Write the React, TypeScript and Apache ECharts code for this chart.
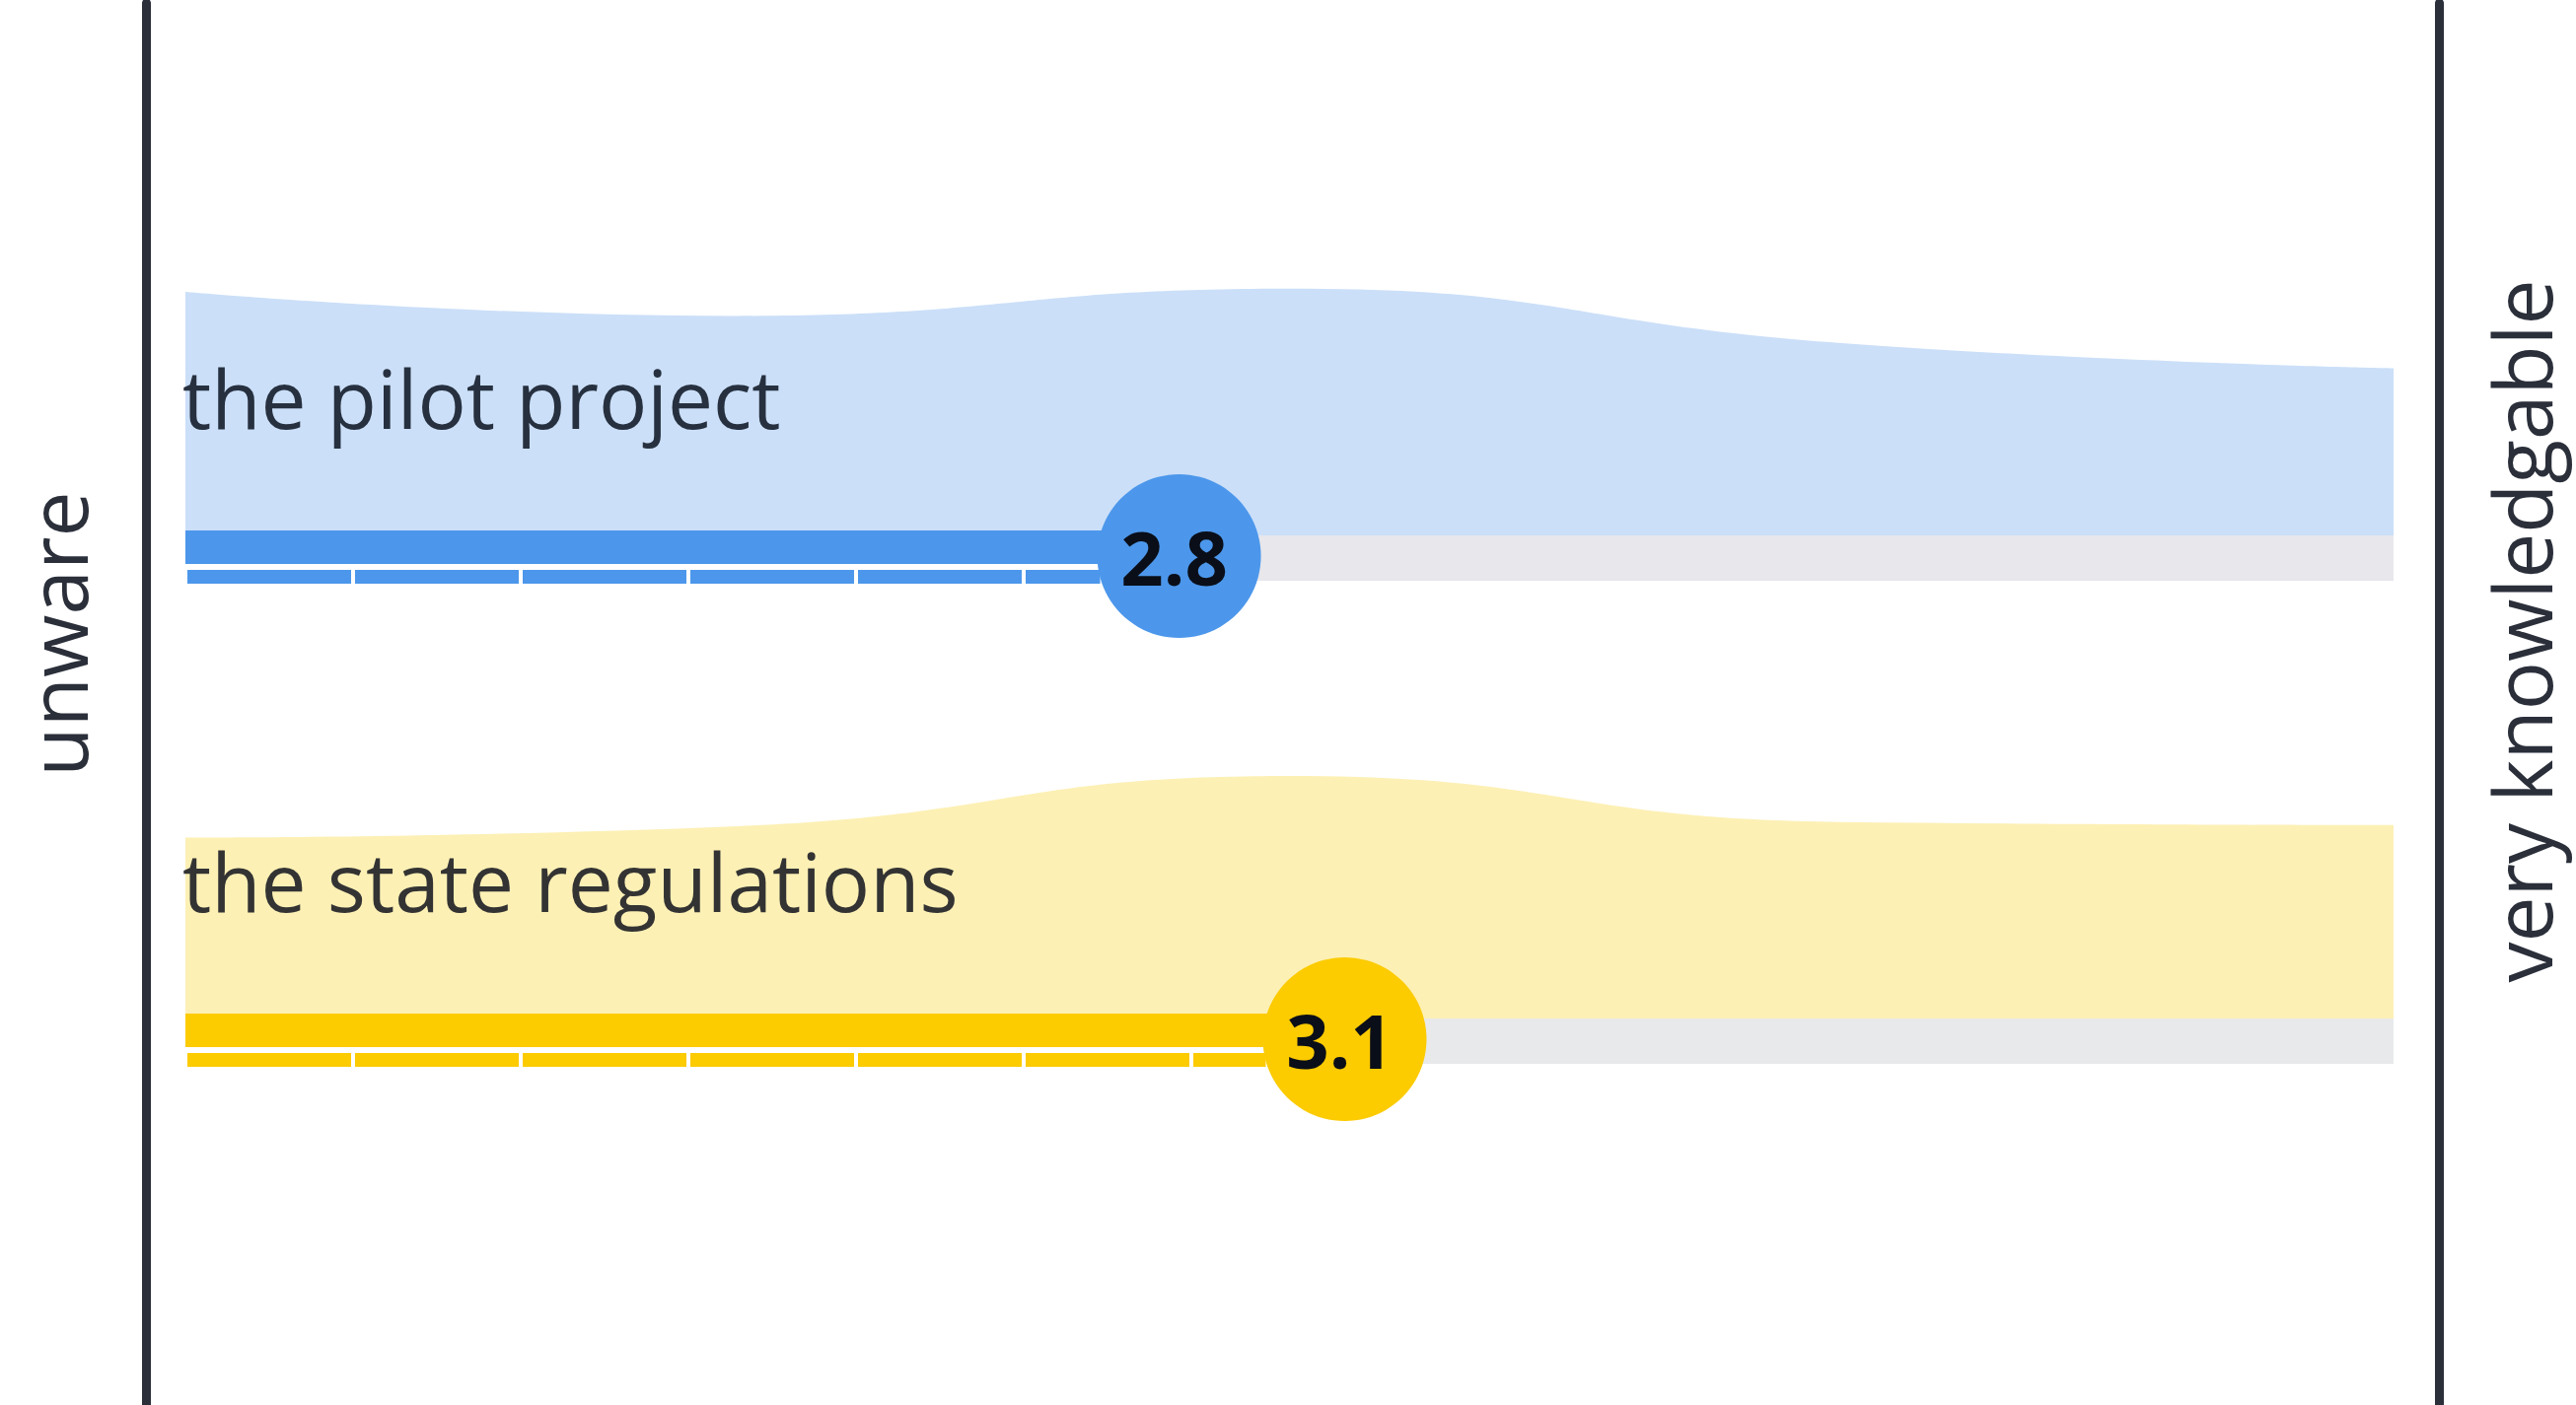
import React, { useEffect, useRef } from "react";
import * as echarts from "echarts";

// ---- data ----
const categories = ["the pilot project", "the state regulations"];
const meanScores = [2.8, 3.1];
const scaleLevels = [1, 2, 3, 4, 5];
const pilotShares = [23.3, 21.0, 23.6, 18.4, 16.0];
const stateShares = [17.3, 18.4, 23.2, 18.8, 18.5];
const scaleEndLabels = ["unware", "very knowledgable"];

// ---- styling / layout ----
const rowShares = [pilotShares, stateShares];
const strongColors = ["#4c97eb", "#fccb00"];
const lightColors = ["#cbdff8", "#fdf0b5"];
const trackColors = ["#e7e7ec", "#e8e9ea"];
const labelColors = ["#26303f", "#333333"];
const frameColor = "#2a2f3a";
const SCALE_MIN = 1;
const SCALE_MAX = 5;
const Y_MIN = -5;
const Y_MAX = 30;
const GRID_TOPS = [225, 715];
const GRID_HEIGHT = 371;
const CIRCLE_R = 83;
const FONT = '"Open Sans", "Noto Sans", sans-serif';

const makeRenderItem = (row: number) => (params: any, api: any) => {
  const v = api.value(0) as number;
  const p0 = api.coord([SCALE_MIN, 0]);
  const p1 = api.coord([SCALE_MAX, 0]);
  const pv = api.coord([v, 0]);
  const base = p0[1];
  const cy = base + 21;
  return {
    type: "group",
    children: [
      {
        type: "rect",
        shape: { x: pv[0], y: base, width: p1[0] - pv[0], height: 46 },
        style: { fill: trackColors[row] },
      },
      {
        type: "rect",
        shape: { x: p0[0], y: base - 5, width: pv[0] - p0[0], height: 34 },
        style: { fill: strongColors[row] },
      },
      {
        type: "line",
        shape: { x1: p0[0] + 2, y1: base + 42, x2: pv[0] - CIRCLE_R + 3, y2: base + 42 },
        style: { stroke: strongColors[row], lineWidth: 14, lineDash: [166, 4], lineCap: "butt" },
      },
      {
        type: "circle",
        shape: { cx: pv[0], cy, r: CIRCLE_R },
        style: { fill: strongColors[row] },
      },
      {
        type: "text",
        x: pv[0] - 5,
        y: cy,
        style: {
          text: v.toFixed(1),
          fill: "#0a0e18",
          fontSize: 76,
          fontWeight: "bold",
          fontFamily: FONT,
          align: "center",
          verticalAlign: "middle",
        },
      },
    ],
  };
};

export default function App() {
  const ref = useRef<HTMLDivElement>(null);

  useEffect(() => {
    document.body.style.margin = "0";
    if (!ref.current) return;
    const chart = echarts.init(ref.current, null, { renderer: "svg" });

    const frameAxis = (position: "left" | "right") => ({
      gridIndex: 2,
      type: "value",
      min: 0,
      max: 1,
      position,
      axisLine: { show: true, onZero: false, lineStyle: { color: frameColor, width: 9 } },
      axisTick: { show: false },
      axisLabel: { show: false },
      splitLine: { show: false },
    });

    const option: any = {
      animation: false,
      backgroundColor: "#ffffff",
      grid: [
        { left: 188, right: 185, top: GRID_TOPS[0], height: GRID_HEIGHT },
        { left: 188, right: 185, top: GRID_TOPS[1], height: GRID_HEIGHT },
        { left: 148, right: 139, top: 3, bottom: 0 },
      ],
      xAxis: [
        { gridIndex: 0, type: "value", min: SCALE_MIN, max: SCALE_MAX, show: false },
        { gridIndex: 1, type: "value", min: SCALE_MIN, max: SCALE_MAX, show: false },
        { gridIndex: 2, type: "value", min: 0, max: 1, show: false },
      ],
      yAxis: [
        { gridIndex: 0, type: "value", min: Y_MIN, max: Y_MAX, show: false },
        { gridIndex: 1, type: "value", min: Y_MIN, max: Y_MAX, show: false },
        frameAxis("left"),
        frameAxis("right"),
      ],
      series: [
        ...rowShares.map((shares, i) => ({
          type: "line",
          name: categories[i] + " distribution",
          xAxisIndex: i,
          yAxisIndex: i,
          data: scaleLevels.map((lv, k) => [lv, shares[k]]),
          smooth: 0.5,
          symbol: "none",
          lineStyle: { width: 0, color: lightColors[i] },
          areaStyle: { color: lightColors[i], opacity: 1, origin: 0 },
          z: 1,
          silent: true,
        })),
        ...meanScores.map((m, i) => ({
          type: "custom",
          name: categories[i],
          xAxisIndex: i,
          yAxisIndex: i,
          data: [[m]],
          renderItem: makeRenderItem(i),
          z: 3,
          silent: true,
        })),
      ],
      graphic: [
        ...categories.map((c, i) => ({
          type: "text",
          x: 185,
          y: GRID_TOPS[i] + 178,
          style: {
            text: c,
            fill: labelColors[i],
            fontSize: 82,
            fontFamily: FONT,
            align: "left",
            verticalAlign: "middle",
          },
          z: 10,
        })),
        {
          type: "text",
          x: 57,
          y: 643,
          rotation: Math.PI / 2,
          style: {
            text: scaleEndLabels[0],
            fill: frameColor,
            fontSize: 82,
            fontFamily: FONT,
            align: "center",
            verticalAlign: "middle",
          },
        },
        {
          type: "text",
          x: 2556,
          y: 640,
          rotation: Math.PI / 2,
          style: {
            text: scaleEndLabels[1],
            fill: frameColor,
            fontSize: 82,
            fontFamily: FONT,
            align: "center",
            verticalAlign: "middle",
          },
        },
      ],
    };

    chart.setOption(option);
    return () => {
      chart.dispose();
    };
  }, []);

  return (
    <div
      ref={ref}
      style={{ position: "absolute", left: 0, top: 0, width: 2612, height: 1425 }}
    />
  );
}
